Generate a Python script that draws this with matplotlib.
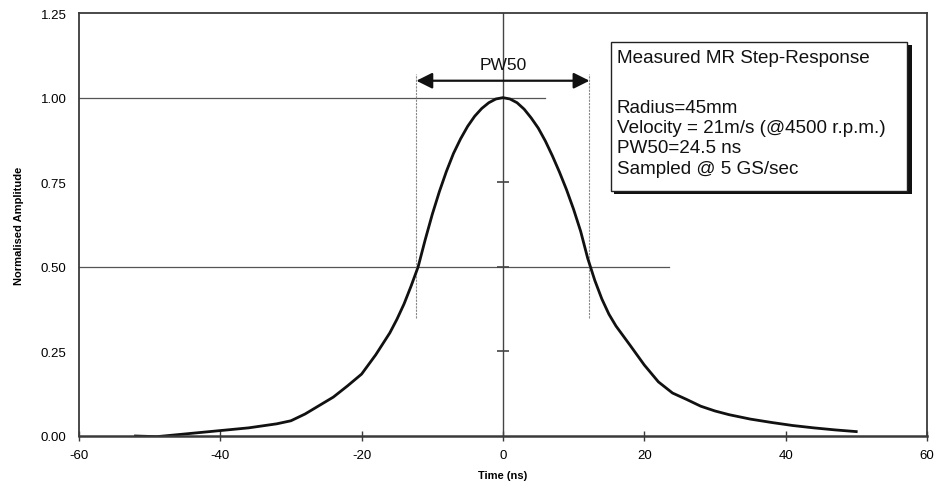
import numpy as np
import matplotlib.pyplot as plt
from matplotlib.patches import Rectangle

plt.rcParams['font.family'] = ['Liberation Sans', 'DejaVu Sans']
plt.rcParams['axes.unicode_minus'] = False

time_ns = [-52, -49, -46, -43, -40, -36, -32, -30, -28, -26, -24, -22, -20, -18,
           -16, -15, -14, -13, -12, -11, -10, -9, -8, -7, -6, -5, -4, -3, -2, -1,
           0, 1, 2, 3, 4, 5, 6, 7, 8, 9, 10, 11, 12, 13, 14, 15, 16,
           18, 20, 22, 24, 26, 28, 30, 32, 35, 38, 41, 44, 47, 50]
amplitude = [0.0, -0.002, 0.004, 0.010, 0.016, 0.024, 0.036, 0.045, 0.065, 0.090,
             0.115, 0.148, 0.183, 0.240,
             0.305, 0.345, 0.390, 0.443, 0.500, 0.580, 0.655, 0.722, 0.782, 0.835,
             0.878, 0.915, 0.945, 0.968, 0.985, 0.996,
             1.000, 0.996, 0.985, 0.966, 0.940, 0.910, 0.872, 0.828, 0.780, 0.728,
             0.670, 0.605, 0.525, 0.460, 0.405, 0.360, 0.325,
             0.268, 0.210, 0.160, 0.127, 0.108, 0.088, 0.074, 0.063, 0.050,
             0.040, 0.031, 0.024, 0.018, 0.013]

pw50 = 24.5
x_ticks = [-60, -40, -20, 0, 20, 40, 60]
y_ticks = [0.0, 0.25, 0.5, 0.75, 1.0, 1.25]
info_lines = ["Measured MR Step-Response", "", "Radius=45mm",
              "Velocity = 21m/s (@4500 r.p.m.)", "PW50=24.5 ns", "Sampled @ 5 GS/sec"]

fig = plt.figure(figsize=(9.39, 5.02), dpi=100)
ax = fig.add_axes([0.0841, 0.1295, 0.9030, 0.8425])

frame_col = '#3a3a3a'
for s in ax.spines.values():
    s.set_color(frame_col)
    s.set_linewidth(1.3)
ax.spines['bottom'].set_linewidth(1.8)

# reference lines
ax.plot([-60, 6], [1.0, 1.0], color='#555555', lw=0.9)
ax.plot([-60, 23.5], [0.5, 0.5], color='#555555', lw=0.9)
ax.axvline(0, color='#444444', lw=1.0)
ax.plot([0, 0, 0], [0.25, 0.5, 0.75], ls='none', marker='_', ms=8, mew=1.2, color='#444444')
for xv in (-pw50 / 2, pw50 / 2):
    ax.plot([xv, xv], [0.35, 1.07], color='#888888', lw=0.8, ls=(0, (2, 1)))

ax.plot(time_ns, amplitude, color='#111111', lw=2.0, solid_joinstyle='round')

# PW50 arrow
ax.annotate('', xy=(pw50 / 2, 1.05), xytext=(-pw50 / 2, 1.05),
            arrowprops=dict(arrowstyle='<|-|>', mutation_scale=24, lw=1.6, color='#111111',
                            shrinkA=0, shrinkB=0))
ax.text(0, 1.075, 'PW50', ha='center', va='bottom', fontsize=12.5, color='#111111')

# info box with shadow
ax.add_patch(Rectangle((0.631, 0.572), 0.351, 0.352, transform=ax.transAxes,
                       facecolor='#111111', edgecolor='none', zorder=4))
ax.add_patch(Rectangle((0.627, 0.579), 0.350, 0.352, transform=ax.transAxes,
                       facecolor='white', edgecolor='#222222', lw=1.0, zorder=5))
line_y = [0.895, None, 0.776, 0.729, 0.681, 0.633]
for txt, yy in zip(info_lines, line_y):
    if yy is None:
        continue
    ax.text(0.634, yy, txt, transform=ax.transAxes, ha='left', va='center',
            fontsize=13.6, color='#111111', zorder=6)

ax.set_xlim(-60, 60)
ax.set_ylim(0, 1.25)
ax.set_xticks(x_ticks)
ax.set_yticks(y_ticks)
ax.set_yticklabels(['%.2f' % v for v in y_ticks])
ax.tick_params(axis='x', direction='inout', length=7, width=1.0, color=frame_col,
               labelsize=9.5, pad=6)
ax.tick_params(axis='y', length=0, labelsize=9.5, pad=9)

ax.set_xlabel('Time (ns)', fontsize=8, fontweight='bold', labelpad=6)
ax.set_ylabel('Normalised Amplitude', fontsize=8, fontweight='bold', labelpad=12)

fig.savefig('out.png', dpi=100)
